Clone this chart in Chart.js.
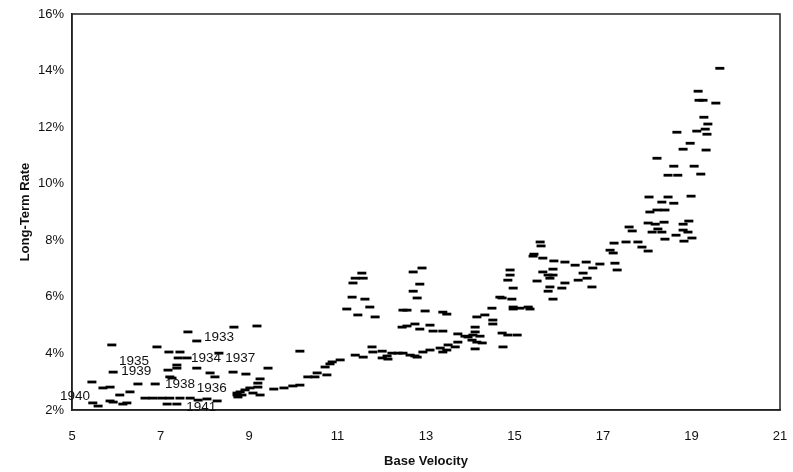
<!DOCTYPE html>
<html>
<head>
<meta charset="utf-8">
<script src="https://cdn.jsdelivr.net/npm/chart.js@4.4.1/dist/chart.umd.min.js"></script>
<style>
  html, body { margin: 0; padding: 0; background: #fff; overflow: hidden; }
  #wrap { width: 793px; height: 472px; position: relative; }
  canvas { display: block; }
</style>
</head>
<body>
<div id="wrap"><canvas id="myChart"></canvas></div>
<script>
// Base velocity (x) and long-term rate in % (y)
const baseVelocity = [
  5.45, 5.70, 5.86, 5.47, 5.59, 5.86, 5.93, 6.15, 6.24, 6.08, 6.31, 5.90, 5.93, 6.49, 6.88,
  6.92, 7.19, 7.44, 7.40, 7.60, 7.37, 7.37, 7.17, 7.82, 7.62, 7.82, 8.66, 8.32, 8.12, 8.23,
  8.64, 7.21, 7.26, 6.65, 6.83, 7.03, 7.21, 7.44, 7.67, 7.85, 8.05, 8.28, 7.15, 7.37, 8.73,
  9.18, 10.15, 8.93, 9.43, 9.25, 9.20, 9.20, 9.02, 8.91, 8.80, 8.73, 8.84, 9.09, 9.25, 8.75,
  9.56, 9.79, 9.99, 10.15, 10.33, 10.49, 10.54, 10.76, 10.72, 10.83, 10.88, 11.06,
  11.21, 11.33, 11.35, 11.40, 11.58, 11.55, 11.46, 11.62, 11.73, 11.85, 11.40, 11.58, 11.78,
  11.80, 12.01, 12.01, 12.12, 12.14, 12.23, 12.37, 12.48, 12.46, 12.48,
  12.71, 12.91, 12.86, 12.71, 12.80, 12.57, 12.98, 13.38, 13.47, 12.57, 12.75, 12.86, 13.09,
  13.16, 13.38, 12.64, 12.75, 12.80, 12.93, 13.09, 13.32, 13.38, 13.47, 13.50, 13.66, 13.72,
  13.72, 13.88, 13.95, 14.04, 14.15, 14.27, 14.11, 14.22, 14.06, 14.11, 14.11, 14.15, 14.33,
  14.51, 14.51, 14.49, 14.72, 14.85, 15.06, 14.74, 14.67, 14.72, 14.90, 14.90, 14.85, 14.97,
  14.94, 14.97, 14.97, 15.12, 15.31, 15.35, 15.42, 15.60, 15.58, 15.44, 15.64, 15.89, 16.14,
  16.37, 16.62, 16.77, 16.93, 15.87, 15.64, 15.87, 15.80, 15.76, 15.51, 16.14, 16.07, 15.80,
  15.76, 15.87, 16.55, 16.64, 16.44, 16.75, 17.16, 17.23, 17.27, 17.32, 17.25, 17.52, 17.79,
  17.88, 18.02, 17.59, 17.66, 18.02, 18.18, 18.38, 18.11, 18.24, 18.33, 18.81, 18.94, 18.81,
  18.92, 18.65, 19.01, 18.83, 18.40, 18.06, 18.22, 18.40, 18.33, 18.60, 18.04, 18.47, 18.99,
  18.47, 18.69, 19.21, 18.60, 19.06, 18.22, 18.81, 19.33, 18.97, 18.67, 19.12, 19.31, 19.35,
  19.37, 19.28, 19.55, 19.17, 19.26, 19.15, 19.64
];
const longTermRate = [
  2.99, 2.78, 2.81, 2.25, 2.14, 2.32, 2.28, 2.21, 2.25, 2.53, 2.64, 4.30, 3.34, 2.92, 2.92,
  4.23, 4.05, 4.05, 3.84, 3.84, 3.59, 3.48, 3.41, 3.48, 4.76, 4.44, 4.93, 4.01, 3.31, 3.17,
  3.34, 3.17, 3.13, 2.42, 2.42, 2.42, 2.42, 2.42, 2.42, 2.35, 2.39, 2.32, 2.21, 2.21, 2.53,
  4.97, 4.08, 3.27, 3.48, 3.10, 2.95, 2.81, 2.78, 2.71, 2.64, 2.60, 2.53, 2.60, 2.53, 2.46,
  2.74, 2.78, 2.85, 2.88, 3.17, 3.17, 3.31, 3.24, 3.52, 3.63, 3.70, 3.77,
  5.57, 5.99, 6.49, 6.66, 6.66, 6.84, 5.36, 5.92, 5.64, 5.29, 3.94, 3.87, 4.23,
  4.05, 4.08, 3.84, 3.91, 3.80, 4.01, 4.01, 4.01, 4.93, 5.53,
  6.88, 7.02, 6.45, 6.20, 5.96, 5.53, 5.50, 5.46, 5.39, 4.97, 5.04, 4.86, 5.00,
  4.79, 4.79, 3.94, 3.91, 3.87, 4.05, 4.12, 4.19, 4.05, 4.12, 4.30, 4.23, 4.40,
  4.69, 4.61, 4.58, 4.47, 4.40, 4.37, 4.16, 4.61, 4.65, 4.93, 4.76, 5.29, 5.36,
  5.18, 5.04, 5.60, 4.72, 4.65, 4.65, 4.23, 5.99, 5.96, 6.95, 6.77, 6.59, 6.31,
  5.92, 5.64, 5.57, 5.60, 5.64, 5.57, 7.44, 7.80, 7.94, 7.51, 7.37, 7.27, 7.23,
  7.12, 7.23, 7.02, 7.16, 6.98, 6.88, 6.77, 6.66, 6.77, 6.56, 6.49, 6.31, 6.35,
  6.20, 5.92, 6.84, 6.66, 6.59, 6.35, 7.65, 7.55, 7.19, 6.95, 7.90, 7.94, 7.94,
  7.76, 7.62, 8.47, 8.33, 8.61, 8.57, 8.64, 8.29, 8.40, 8.29, 8.57, 8.68, 8.36,
  8.29, 8.18, 8.08, 7.97, 8.04, 9.00, 9.07, 9.07, 9.35, 9.31, 9.53, 9.53, 9.56,
  10.30, 10.30, 10.34, 10.62, 10.62, 10.90, 11.22, 11.19, 11.43, 11.82, 11.86, 11.93, 11.75,
  12.11, 12.35, 12.85, 12.95, 12.95, 13.27, 14.08
];

// Year labels placed next to some of the early points
const yearLabels = ['1933', '1934', '1937', '1935', '1939', '1938', '1936', '1940', '1941'];
const yearX = [8.32, 8.03, 8.80, 6.40, 6.45, 7.44, 8.16, 5.07, 7.92];
const yearY = [4.58, 3.84, 3.84, 3.73, 3.38, 2.92, 2.78, 2.49, 2.11];

const xTicks = [5, 7, 9, 11, 13, 15, 17, 19, 21];
const yTicks = [2, 4, 6, 8, 10, 12, 14, 16];

const points = baseVelocity.map((x, i) => ({ x: x, y: longTermRate[i] }));

const FONT = "'Liberation Sans', Arial, sans-serif";

// Draw the box around the plot and the year labels
const framePlugin = {
  id: 'frame',
  afterDatasetsDraw(chart) {
    const { ctx, chartArea, scales } = chart;
    ctx.save();
    ctx.strokeStyle = '#222';
    ctx.lineWidth = 1.5;
    ctx.strokeRect(chartArea.left, chartArea.top, chartArea.right - chartArea.left, chartArea.bottom - chartArea.top);
    ctx.fillStyle = '#111';
    ctx.font = '13.5px ' + FONT;
    ctx.textAlign = 'center';
    ctx.textBaseline = 'middle';
    yearLabels.forEach((t, i) => {
      ctx.fillText(t, scales.x.getPixelForValue(yearX[i]), scales.y.getPixelForValue(yearY[i]));
    });
    ctx.restore();
  }
};

const ctx = document.getElementById('myChart').getContext('2d');

const myChart = new Chart(ctx, {
  type: 'scatter',
  data: {
    datasets: [{
      data: points,
      pointStyle: 'line',
      pointRadius: 4.5,
      pointHoverRadius: 4.5,
      borderWidth: 2.8,
      pointBorderWidth: 2.8,
      borderColor: '#000',
      backgroundColor: '#000'
    }]
  },
  options: {
    responsive: true,
    maintainAspectRatio: false,
    animation: false,
    layout: { padding: { left: 0, top: 14, right: 13, bottom: 0 } },
    plugins: {
      legend: { display: false },
      tooltip: { enabled: false }
    },
    scales: {
      x: {
        type: 'linear',
        min: 5,
        max: 21,
        afterBuildTicks: (s) => { s.ticks = xTicks.map(v => ({ value: v })); },
        afterFit: (s) => { s.height = 62; s.paddingLeft = 0; s.paddingRight = 0; },
        grid: { display: false, drawOnChartArea: false, drawTicks: true, tickLength: 5, tickColor: '#222' },
        border: { display: true, color: '#222', width: 1.5 },
        ticks: { color: '#111', font: { family: FONT, size: 13 }, padding: 14, maxRotation: 0 },
        title: { display: true, text: 'Base Velocity', color: '#111', font: { family: FONT, size: 13, weight: 'bold' }, padding: { top: 0, bottom: 3 } }
      },
      y: {
        type: 'linear',
        min: 2,
        max: 16,
        afterBuildTicks: (s) => { s.ticks = yTicks.map(v => ({ value: v })); },
        afterFit: (s) => { s.width = 72; s.paddingTop = 0; s.paddingBottom = 0; },
        grid: { display: false, drawOnChartArea: false, drawTicks: true, tickLength: 5, tickColor: '#222' },
        border: { display: true, color: '#222', width: 1.5 },
        ticks: { color: '#111', font: { family: FONT, size: 13 }, padding: 3, callback: (v) => v + '%' },
        title: { display: true, text: 'Long-Term Rate', color: '#111', font: { family: FONT, size: 13, weight: 'bold' }, padding: { top: 18, bottom: 0 } }
      }
    }
  },
  plugins: [framePlugin]
});
</script>
</body>
</html>
